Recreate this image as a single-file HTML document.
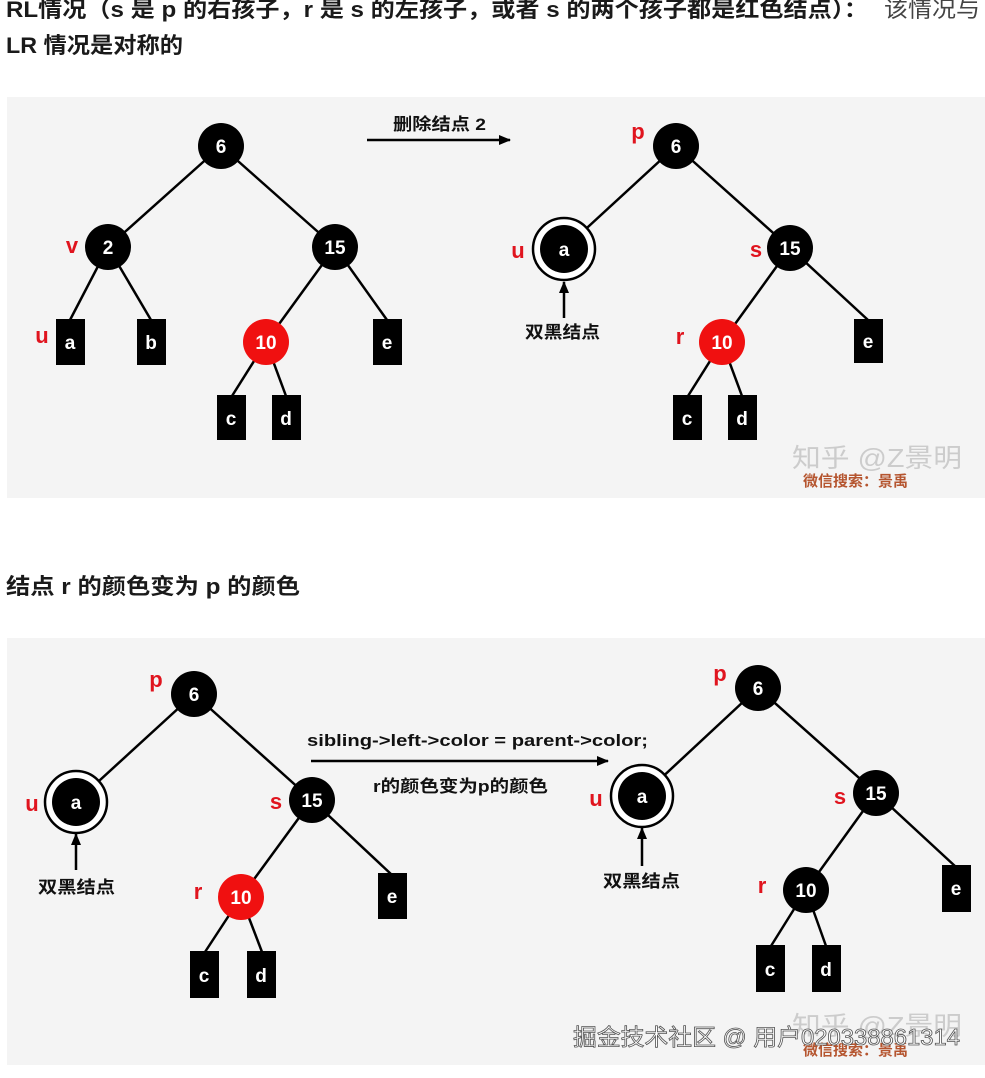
<!DOCTYPE html>
<html><head><meta charset="utf-8"><style>
html,body{margin:0;padding:0;background:#fff;width:985px;height:1078px;overflow:hidden}
svg{display:block}
.t{font-family:"Liberation Sans","Noto Sans CJK SC",sans-serif}
.n{fill:#fff;font-weight:bold;font-size:19px;text-anchor:middle;font-family:"Liberation Sans",sans-serif}
.l{fill:#e0141e;font-weight:bold;font-size:22px;text-anchor:middle;font-family:"Liberation Sans",sans-serif}
.k{fill:#111;font-size:17px;font-family:"Liberation Sans","Noto Sans CJK SC",sans-serif;font-weight:bold}
line{stroke:#000;stroke-width:2.5}
</style></head><body>
<svg width="985" height="1078" xmlns="http://www.w3.org/2000/svg">
<defs><marker id="ar" markerWidth="12" markerHeight="10" refX="11" refY="5" orient="auto" markerUnits="userSpaceOnUse"><path d="M0,0 L12,5 L0,10 z" fill="#000"/></marker></defs>
<text class="t" x="6" y="17" font-size="22" font-weight="bold" fill="#1a1a1a" textLength="862" lengthAdjust="spacingAndGlyphs">RL情况（s 是 p 的右孩子，r 是 s 的左孩子，或者 s 的两个孩子都是红色结点）：</text>
<text class="t" x="884" y="17" font-size="22" fill="#444" textLength="96" lengthAdjust="spacingAndGlyphs">该情况与</text>
<text class="t" x="6" y="53" font-size="22" font-weight="bold" fill="#1a1a1a" textLength="177" lengthAdjust="spacingAndGlyphs">LR 情况是对称的</text>
<text class="t" x="6" y="594" font-size="22" font-weight="bold" fill="#1a1a1a" textLength="294" lengthAdjust="spacingAndGlyphs">结点 r 的颜色变为 p 的颜色</text>
<rect x="7" y="97" width="978" height="401" fill="#f4f4f4"/>
<rect x="7" y="638" width="978" height="427" fill="#f4f4f4"/>

<line x1="221" y1="146" x2="108" y2="247"/><line x1="221" y1="146" x2="335" y2="247"/>
<line x1="108" y1="247" x2="70" y2="320"/><line x1="108" y1="247" x2="151" y2="320"/>
<line x1="335" y1="247" x2="266" y2="342"/><line x1="335" y1="247" x2="387" y2="320"/>
<line x1="266" y1="342" x2="232" y2="396"/><line x1="266" y1="342" x2="286" y2="396"/>
<circle cx="221" cy="146" r="23"/><text class="n" x="221" y="153">6</text>
<circle cx="108" cy="247" r="23"/><text class="n" x="108" y="254">2</text>
<circle cx="335" cy="247" r="23"/><text class="n" x="335" y="254">15</text>
<circle cx="266" cy="342" r="23" fill="#f01010"/><text class="n" x="266" y="349">10</text>
<rect x="56" y="319" width="29" height="46"/><text class="n" x="70" y="349" font-size="18">a</text>
<rect x="137" y="319" width="29" height="46"/><text class="n" x="151" y="349" font-size="18">b</text>
<rect x="373" y="319" width="29" height="46"/><text class="n" x="387" y="349" font-size="18">e</text>
<rect x="217" y="395" width="29" height="45"/><text class="n" x="231" y="425" font-size="18">c</text>
<rect x="272" y="395" width="29" height="45"/><text class="n" x="286" y="425" font-size="18">d</text>
<text class="l" x="72" y="253">v</text><text class="l" x="42" y="343">u</text>
<line x1="367" y1="140" x2="510" y2="140" marker-end="url(#ar)"/>
<text class="k" x="393" y="130" textLength="93" lengthAdjust="spacingAndGlyphs">删除结点 2</text>

<line x1="676" y1="146" x2="564" y2="249"/><line x1="676" y1="146" x2="790" y2="248"/>
<line x1="790" y1="248" x2="722" y2="342"/><line x1="790" y1="248" x2="868" y2="320"/>
<line x1="722" y1="342" x2="688" y2="396"/><line x1="722" y1="342" x2="742" y2="396"/>
<circle cx="676" cy="146" r="23"/><text class="n" x="676" y="153">6</text>
<circle cx="564" cy="249" r="31" fill="#fff" stroke="#000" stroke-width="2.5"/><circle cx="564" cy="249" r="24"/><text class="n" x="564" y="256">a</text>
<line x1="564" y1="318" x2="564" y2="282" marker-end="url(#ar)" stroke-width="3"/>
<text class="k" x="525" y="338" textLength="75" lengthAdjust="spacingAndGlyphs">双黑结点</text>
<circle cx="790" cy="248" r="23"/><text class="n" x="790" y="255">15</text>
<circle cx="722" cy="342" r="23" fill="#f01010"/><text class="n" x="722" y="349">10</text>
<rect x="854" y="319" width="29" height="44"/><text class="n" x="868" y="348" font-size="18">e</text>
<rect x="673" y="395" width="29" height="45"/><text class="n" x="687" y="425" font-size="18">c</text>
<rect x="728" y="395" width="29" height="45"/><text class="n" x="742" y="425" font-size="18">d</text>
<text class="l" x="638" y="139">p</text><text class="l" x="518" y="258">u</text>
<text class="l" x="756" y="257">s</text><text class="l" x="680" y="344">r</text>
<text class="t" x="792" y="467" font-size="26" fill="#ccc" textLength="170" lengthAdjust="spacingAndGlyphs">知乎 @Z景明</text>
<text class="t" x="803" y="486" font-size="15" fill="#b5552f" font-weight="bold">微信搜索：景禹</text>

<line x1="194" y1="694" x2="76" y2="802"/><line x1="194" y1="694" x2="312" y2="800"/>
<line x1="312" y1="800" x2="241" y2="897"/><line x1="312" y1="800" x2="392" y2="875"/>
<line x1="241" y1="897" x2="205" y2="952"/><line x1="241" y1="897" x2="262" y2="952"/>
<circle cx="194" cy="694" r="23"/><text class="n" x="194" y="701">6</text>
<circle cx="76" cy="802" r="31" fill="#fff" stroke="#000" stroke-width="2.5"/><circle cx="76" cy="802" r="24"/><text class="n" x="76" y="809">a</text>
<line x1="76" y1="870" x2="76" y2="834" marker-end="url(#ar)" stroke-width="3"/>
<text class="k" x="38" y="893" textLength="77" lengthAdjust="spacingAndGlyphs">双黑结点</text>
<circle cx="312" cy="800" r="23"/><text class="n" x="312" y="807">15</text>
<circle cx="241" cy="897" r="23" fill="#f01010"/><text class="n" x="241" y="904">10</text>
<rect x="378" y="873" width="29" height="46"/><text class="n" x="392" y="903" font-size="18">e</text>
<rect x="190" y="951" width="29" height="47"/><text class="n" x="204" y="982" font-size="18">c</text>
<rect x="247" y="951" width="29" height="47"/><text class="n" x="261" y="982" font-size="18">d</text>
<text class="l" x="156" y="687">p</text><text class="l" x="32" y="811">u</text>
<text class="l" x="276" y="809">s</text><text class="l" x="198" y="899">r</text>
<line x1="311" y1="761" x2="608" y2="761" marker-end="url(#ar)"/>
<text class="k" x="307" y="746" font-size="18" textLength="341" lengthAdjust="spacingAndGlyphs">sibling-&gt;left-&gt;color = parent-&gt;color;</text>
<text class="k" x="373" y="792" textLength="175" lengthAdjust="spacingAndGlyphs">r的颜色变为p的颜色</text>

<line x1="758" y1="688" x2="642" y2="796"/><line x1="758" y1="688" x2="876" y2="793"/>
<line x1="876" y1="793" x2="806" y2="890"/><line x1="876" y1="793" x2="956" y2="867"/>
<line x1="806" y1="890" x2="771" y2="946"/><line x1="806" y1="890" x2="826" y2="946"/>
<circle cx="758" cy="688" r="23"/><text class="n" x="758" y="695">6</text>
<circle cx="642" cy="796" r="31" fill="#fff" stroke="#000" stroke-width="2.5"/><circle cx="642" cy="796" r="24"/><text class="n" x="642" y="803">a</text>
<line x1="642" y1="866" x2="642" y2="828" marker-end="url(#ar)" stroke-width="3"/>
<text class="k" x="603" y="887" textLength="77" lengthAdjust="spacingAndGlyphs">双黑结点</text>
<circle cx="876" cy="793" r="23"/><text class="n" x="876" y="800">15</text>
<circle cx="806" cy="890" r="23"/><text class="n" x="806" y="897">10</text>
<rect x="942" y="865" width="29" height="47"/><text class="n" x="956" y="895" font-size="18">e</text>
<rect x="756" y="945" width="29" height="47"/><text class="n" x="770" y="976" font-size="18">c</text>
<rect x="812" y="945" width="29" height="47"/><text class="n" x="826" y="976" font-size="18">d</text>
<text class="l" x="720" y="681">p</text><text class="l" x="596" y="806">u</text>
<text class="l" x="840" y="804">s</text><text class="l" x="762" y="893">r</text>
<text class="t" x="792" y="1035" font-size="26" fill="#ccc" textLength="170" lengthAdjust="spacingAndGlyphs">知乎 @Z景明</text>
<text class="t" x="803" y="1055" font-size="15" fill="#b5552f" font-weight="bold">微信搜索：景禹</text>
<text class="t" x="573" y="1045" font-size="23" fill="#fff" stroke="#555" stroke-width="0.8" textLength="387" lengthAdjust="spacingAndGlyphs">掘金技术社区 @ 用户020338861314</text>
</svg>
</body></html>
